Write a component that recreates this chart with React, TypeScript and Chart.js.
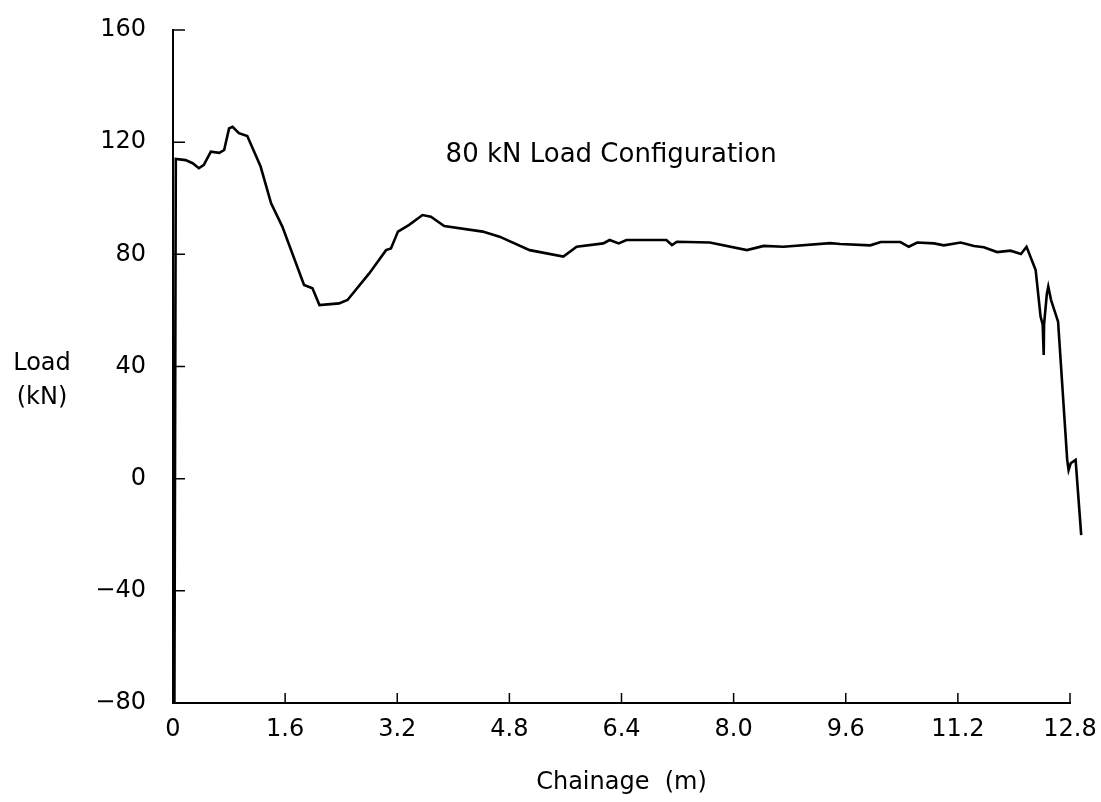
import React, { useEffect, useRef } from 'react';
import { Chart, registerables } from 'chart.js';

Chart.register(...registerables);

// Chainage (m) and load (kN)
const chainage = [
  0.02, 0.04, 0.18, 0.28, 0.37, 0.44, 0.54, 0.66, 0.73, 0.8, 0.85, 0.94, 1.06, 1.25, 1.4, 1.56,
  1.87, 1.99, 2.09, 2.37, 2.49, 2.8, 3.04, 3.11, 3.21, 3.37, 3.56, 3.68, 3.87, 4.42, 4.66, 5.09,
  5.57, 5.76, 6.14, 6.23, 6.36, 6.47, 7.04, 7.12, 7.19, 7.66, 8.19, 8.43, 8.71, 9.38, 9.52, 9.95,
  10.1, 10.38, 10.5, 10.62, 10.86, 11.0, 11.24, 11.43, 11.57, 11.76, 11.95, 12.1, 12.18, 12.31,
  12.38, 12.41, 12.425, 12.43, 12.47, 12.49, 12.53, 12.63, 12.76, 12.78, 12.81, 12.88, 12.96,
];
const load = [
  -80, 114.0, 113.6, 112.5, 110.7, 111.9, 116.6, 116.2, 117.2, 124.9, 125.5, 123.2, 122.2, 111.3, 98.2, 89.9,
  69.1, 67.9, 61.9, 62.5, 63.7, 73.2, 81.5, 82.1, 88.1, 90.5, 94.0, 93.4, 90.1, 88.1, 86.3, 81.5,
  79.2, 82.7, 83.9, 85.1, 83.9, 85.1, 85.1, 83.3, 84.5, 84.2, 81.5, 83.0, 82.7, 84.0, 83.7, 83.2,
  84.4, 84.4, 82.7, 84.2, 83.9, 83.2, 84.2, 83.0, 82.5, 80.8, 81.3, 80.1, 82.7, 74.4,
  57.8, 55.0, 44.1, 55.0, 66.0, 68.5, 63.7, 56.0, 6.7, 3.1, 5.5, 6.7, -20.1,
];

const xTickValues = [0, 1.6, 3.2, 4.8, 6.4, 8.0, 9.6, 11.2, 12.8];
const xTickLabels = ['0', '1.6', '3.2', '4.8', '6.4', '8.0', '9.6', '11.2', '12.8'];
const yTickValues = [-80, -40, 0, 40, 80, 120, 160];
const yTickLabels = ['\u221280', '\u221240', '0', '40', '80', '120', '160'];

const chartTitle = '80 kN Load Configuration';
const xTitle = 'Chainage  (m)';
const yTitleLines = ['Load', '(kN)'];

const FONT = '"DejaVu Sans", "Noto Sans", sans-serif';

const decorPlugin = {
  id: 'decor',
  afterDraw(chart: any) {
    const { ctx, chartArea, scales } = chart;
    const x = scales.x;
    const y = scales.y;
    ctx.save();
    ctx.strokeStyle = '#000';
    ctx.lineWidth = 1.5;
    ctx.beginPath();
    yTickValues.forEach((v) => {
      const py = y.getPixelForValue(v);
      ctx.moveTo(chartArea.left, py);
      ctx.lineTo(chartArea.left + 12, py);
    });
    xTickValues.slice(1).forEach((v) => {
      const px = x.getPixelForValue(v);
      ctx.moveTo(px, chartArea.bottom);
      ctx.lineTo(px, chartArea.bottom - 10);
    });
    ctx.stroke();

    ctx.fillStyle = '#000';
    ctx.font = `26px ${FONT}`;
    ctx.textAlign = 'left';
    ctx.textBaseline = 'middle';
    ctx.fillText(chartTitle, x.getPixelForValue(3.89), y.getPixelForValue(115.4));

    ctx.font = `24px ${FONT}`;
    ctx.textAlign = 'center';
    const cy = y.getPixelForValue(35);
    ctx.fillText(yTitleLines[0], 42, cy - 17);
    ctx.fillText(yTitleLines[1], 42, cy + 17);
    ctx.restore();
  },
};

const zeroPadding = (scale: any) => {
  scale.paddingTop = 0;
  scale.paddingBottom = 0;
  scale.paddingLeft = 0;
  scale.paddingRight = 0;
};

export default function App() {
  const canvasRef = useRef<HTMLCanvasElement | null>(null);

  useEffect(() => {
    const canvas = canvasRef.current;
    if (!canvas) return;
    Chart.defaults.color = '#000';
    const chart = new Chart(canvas, {
      type: 'line',
      data: {
        datasets: [
          {
            data: chainage.map((c, i) => ({ x: c, y: load[i] })),
            borderColor: '#000',
            borderWidth: 2.6,
            pointRadius: 0,
            tension: 0,
            fill: false,
            clip: false as any,
          },
        ],
      },
      options: {
        responsive: false,
        animation: false,
        layout: { padding: { left: 0, top: 30, right: 31, bottom: 0 } },
        plugins: {
          legend: { display: false },
          tooltip: { enabled: false },
          title: { display: false },
        },
        scales: {
          x: {
            type: 'linear',
            bounds: 'data',
            grid: { display: false, drawTicks: false },
            border: { display: true, color: '#000', width: 2 },
            afterDataLimits: (scale: any) => {
              scale.min = xTickValues[0];
              scale.max = xTickValues[xTickValues.length - 1];
            },
            afterBuildTicks: (scale: any) => {
              scale.ticks = xTickValues.map((v) => ({ value: v }));
              scale.min = xTickValues[0];
              scale.max = xTickValues[xTickValues.length - 1];
            },
            afterFit: (scale: any) => {
              scale.height = 99;
              zeroPadding(scale);
            },
            ticks: {
              padding: 12,
              maxRotation: 0,
              autoSkip: false,
              font: { family: FONT, size: 24 },
              color: '#000',
              callback: (_v: any, i: number) => xTickLabels[i],
            },
            title: {
              display: true,
              text: xTitle,
              color: '#000',
              font: { family: FONT, size: 24 },
              padding: { top: 0, bottom: 5 },
            },
          },
          y: {
            type: 'linear',
            min: -80,
            max: 160,
            grid: { display: false, drawTicks: false },
            border: { display: true, color: '#000', width: 2 },
            afterBuildTicks: (scale: any) => {
              scale.ticks = yTickValues.map((v) => ({ value: v }));
            },
            afterFit: (scale: any) => {
              scale.width = 173;
              zeroPadding(scale);
            },
            ticks: {
              padding: 27,
              autoSkip: false,
              font: { family: FONT, size: 24 },
              color: '#000',
              callback: (_v: any, i: number) => yTickLabels[i],
            },
          },
        },
      },
      plugins: [decorPlugin],
    });
    return () => chart.destroy();
  }, []);

  return (
    <div style={{ position: 'absolute', left: 0, top: 0, width: 1101, height: 802, background: '#fff' }}>
      <canvas ref={canvasRef} width={1101} height={802} />
    </div>
  );
}
